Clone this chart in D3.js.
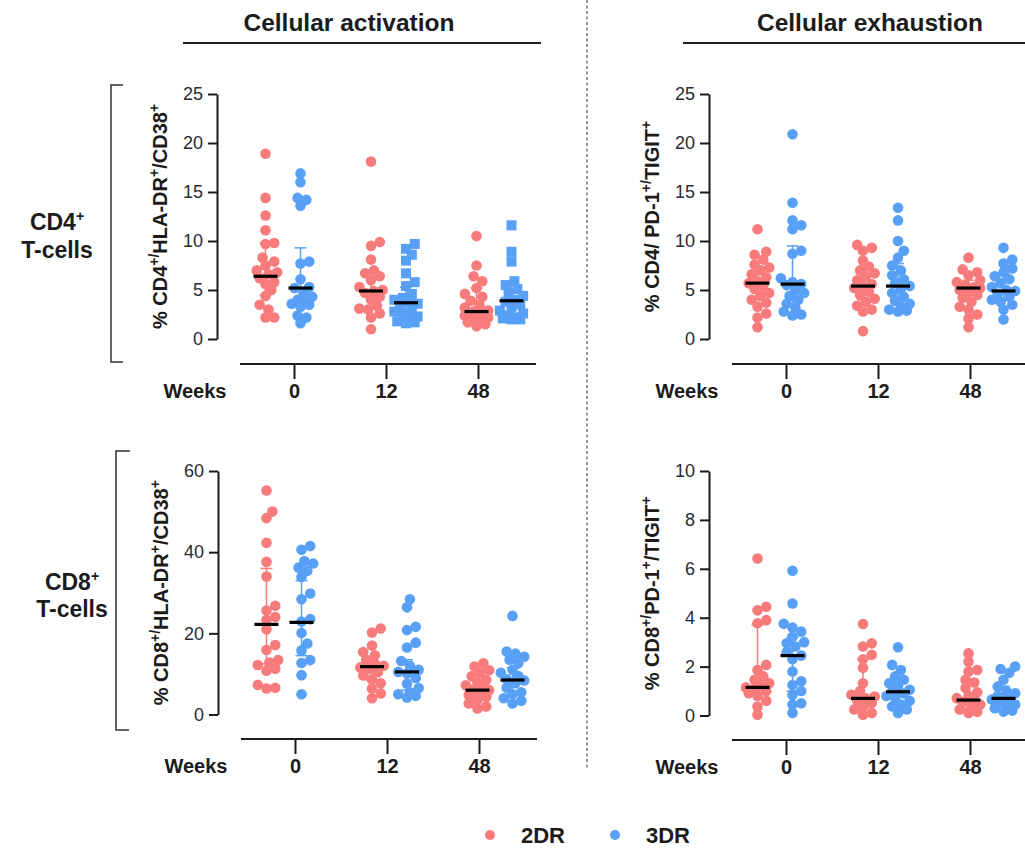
<!DOCTYPE html>
<html><head><meta charset="utf-8">
<script src="https://cdn.jsdelivr.net/npm/d3@7"></script>
<style>body{margin:0;background:#fff} svg{font-family:"Liberation Sans",Arial,sans-serif}</style>
</head><body><svg id="c" width="1025" height="850"></svg>
<script>
const weeks = ["0","12","48"];
const groups = ["2DR","3DR"];
const groupColors = ["#f87b7b","#57a0f6"];
const columnTitles = ["Cellular activation","Cellular exhaustion"];

// CD4 activation (% CD4+/HLA-DR+/CD38+), [week][values]
const cd4Act_2DR = [
  [18.9,14.4,12.6,11.1,9.8,9.7,8.3,7.9,7.5,7.0,6.8,6.6,6.2,5.8,5.6,5.0,4.4,3.5,3.0,2.2,2.2],
  [18.1,9.9,9.5,8.1,7.0,6.7,6.4,6.0,5.3,5.0,4.9,4.7,4.3,4.0,3.4,3.1,3.0,2.6,2.2,1.0],
  [10.5,7.5,6.4,5.9,5.2,4.6,4.3,3.9,3.5,3.2,2.9,2.8,2.6,2.4,2.2,2.0,1.9,1.7,1.5,1.3]];
const cd4Act_3DR = [
  [16.9,16.0,14.4,14.2,13.6,7.9,7.7,6.1,5.3,5.2,4.7,4.3,4.0,3.8,3.6,3.5,3.3,2.4,2.2,1.6],
  [9.7,9.2,8.6,8.0,6.7,5.8,5.4,4.6,4.2,4.0,3.8,3.6,3.3,3.0,2.8,2.6,2.3,2.0,1.8,1.7,1.6],
  [11.6,8.9,7.9,5.9,5.5,5.1,4.7,4.4,4.0,3.8,3.5,3.2,2.9,2.6,2.4,2.2,2.1,2.0,2.0]];
const cd4Act_median = [[6.4,5.2],[4.9,3.7],[2.8,3.9]];
const cd4Act_err = [[[4.5,9.8],[3.5,9.3]],[[3.3,6.3],[2.5,5.3]],[[1.8,5.2],[2.3,5.5]]];
const cd4Act_shape = [["circle","circle"],["circle","square"],["circle","square"]];

// CD4 exhaustion (% CD4/PD-1+/TIGIT+)
const cd4Exh_2DR = [
  [11.2,8.9,8.6,8.1,7.6,7.3,7.0,6.6,6.3,5.9,5.7,5.4,5.1,4.7,4.4,4.0,3.7,3.3,2.6,2.2,1.2],
  [9.6,9.3,9.0,8.0,7.4,7.0,6.7,6.4,6.0,5.6,5.4,5.2,4.8,4.5,4.1,3.8,3.4,3.0,2.8,0.8],
  [8.3,7.1,6.8,6.5,6.0,5.8,5.5,5.3,5.2,5.0,4.8,4.5,4.2,3.8,3.3,3.0,2.5,2.1,1.2]];
const cd4Exh_3DR = [
  [20.9,13.9,12.1,11.6,11.2,9.0,8.7,6.2,5.8,5.6,5.5,5.0,4.7,4.4,4.0,3.6,3.2,2.8,2.5,2.4],
  [13.4,12.1,10.0,9.0,8.3,7.5,7.0,6.5,6.1,5.7,5.4,5.1,4.7,4.3,3.9,3.6,3.3,3.0,2.9,2.8],
  [9.3,8.1,7.7,7.2,6.8,6.4,6.1,5.7,5.3,5.0,4.9,4.6,4.3,4.0,3.8,3.5,3.0,2.0]];
const cd4Exh_median = [[5.7,5.6],[5.4,5.4],[5.2,4.9]];
const cd4Exh_err = [[[4.3,7.4],[3.6,9.5]],[[4.0,7.0],[3.5,7.7]],[[4.0,6.0],[4.0,6.6]]];

// CD8 activation (% CD8+/HLA-DR+/CD38+)
const cd8Act_2DR = [
  [55.2,50.0,48.4,42.3,37.6,34.0,26.8,25.6,24.0,23.3,21.0,17.1,15.9,13.4,12.8,12.2,11.3,10.8,7.3,6.6,6.4],
  [21.2,20.2,17.0,15.4,14.6,13.5,12.5,12.0,11.6,11.2,10.4,9.6,8.6,7.7,6.4,5.2,4.0],
  [12.6,11.8,10.9,10.2,9.4,8.5,7.8,7.2,6.6,6.1,6.0,5.4,4.8,4.4,3.6,2.7,2.0,1.5]];
const cd8Act_3DR = [
  [41.5,40.6,37.8,37.2,36.2,35.4,33.9,29.8,28.4,23.5,22.9,20.1,17.5,15.8,13.4,12.7,9.7,5.0],
  [28.4,26.4,21.6,20.8,17.7,16.5,13.2,12.0,11.0,10.5,10.1,9.0,7.6,6.5,5.5,5.0,4.6,4.2],
  [24.3,15.5,15.0,14.2,13.5,12.6,11.0,10.3,9.5,8.7,8.4,7.7,6.6,5.5,5.0,4.0,3.4,2.7]];
const cd8Act_median = [[22.2,22.7],[11.8,10.5],[6.0,8.5]];
const cd8Act_err = [[[12.5,36.0],[14.5,33.0]],[[8.5,14.0],[6.0,13.5]],[[3.8,8.5],[5.0,11.5]]];

// CD8 exhaustion (% CD8+/PD-1+/TIGIT+)
const cd8Exh_2DR = [
  [6.42,4.45,4.3,3.9,3.77,2.07,1.86,1.6,1.46,1.32,1.2,1.15,1.1,1.0,0.91,0.8,0.6,0.37,0.03],
  [3.74,2.95,2.82,2.48,2.3,1.95,1.32,1.0,0.85,0.78,0.7,0.62,0.5,0.37,0.25,0.1,0.03],
  [2.54,2.2,1.86,1.8,1.46,1.35,1.12,0.95,0.8,0.71,0.63,0.55,0.45,0.37,0.25,0.15,0.1]];
const cd8Exh_3DR = [
  [5.92,4.58,3.75,3.6,3.43,3.22,3.0,2.95,2.82,2.6,2.45,2.3,1.8,1.4,1.25,1.0,0.84,0.5,0.45,0.1],
  [2.79,2.07,1.86,1.6,1.46,1.32,1.2,1.05,0.97,0.9,0.8,0.71,0.6,0.45,0.37,0.25,0.1],
  [2.0,1.9,1.75,1.46,1.18,1.0,0.91,0.8,0.7,0.65,0.57,0.45,0.35,0.3,0.2,0.16]];
const cd8Exh_median = [[1.15,2.45],[0.7,0.97],[0.63,0.7]];
const cd8Exh_err = [[[0.9,3.7],[1.0,3.2]],[[0.3,2.3],[0.5,1.4]],[[0.3,1.5],[0.4,1.2]]];

const ticksCD4 = [0,5,10,15,20,25];
const ticksCD8Act = [0,20,40,60];
const ticksCD8Exh = [0,2,4,6,8,10];

const labelCD4Act = [["% CD4",0],["+/",1],["HLA-DR",0],["+",1],["/CD38",0],["+",1]];
const labelCD4Exh = [["% CD4/ PD-1",0],["+/",1],["TIGIT",0],["+",1]];
const labelCD8Act = [["% CD8",0],["+/",1],["HLA-DR",0],["+",1],["/CD38",0],["+",1]];
const labelCD8Exh = [["% CD8",0],["+/",1],["PD-1",0],["+",1],["/TIGIT",0],["+",1]];

const svg = d3.select("#c");
const ink = "#1b1b1b";

function superText(sel, segs, size) {
  segs.forEach((s, i) => {
    const prevSup = i > 0 && segs[i-1][1];
    const t = sel.append("tspan").text(s[0]);
    if (s[1]) { t.attr("font-size", size*0.7).attr("dy", -size*0.42); }
    else if (prevSup) { t.attr("dy", size*0.42); }
  });
}

function swarm(vals, y, r, maxOff) {
  const pts = vals.map((v, i) => ({v, i, y: y(v)})).sort((a, b) => a.v - b.v);
  const placed = [];
  const step = r * 0.55;
  const cands = [0];
  for (let k = 1; k * step <= maxOff; k++) { cands.push(k*step, -k*step); }
  const minD = r * 1.55;
  pts.forEach(p => {
    let best = null, bestScore = -1;
    for (const off of cands) {
      let md = Infinity;
      for (const q of placed) { const d = Math.hypot(q.x - off, q.y - p.y); if (d < md) md = d; }
      if (md >= minD) { best = off; break; }
      if (md > bestScore) { bestScore = md; best = off; }
    }
    p.x = best; placed.push(p);
  });
  return pts;
}

const panels = [
  {ax:217, yTop:94, yZero:339, base:364, max:25, ticks:ticksCD4, data:[cd4Act_2DR,cd4Act_3DR], med:cd4Act_median, err:cd4Act_err, shape:cd4Act_shape, label:labelCD4Act},
  {ax:709, yTop:94, yZero:339, base:364, max:25, ticks:ticksCD4, data:[cd4Exh_2DR,cd4Exh_3DR], med:cd4Exh_median, err:cd4Exh_err, label:labelCD4Exh},
  {ax:218, yTop:471, yZero:714.5, base:739, max:60, ticks:ticksCD8Act, data:[cd8Act_2DR,cd8Act_3DR], med:cd8Act_median, err:cd8Act_err, label:labelCD8Act},
  {ax:709, yTop:471, yZero:715.5, base:740, max:10, ticks:ticksCD8Exh, data:[cd8Exh_2DR,cd8Exh_3DR], med:cd8Exh_median, err:cd8Exh_err, label:labelCD8Exh}
];

panels.forEach(P => {
  const g = svg.append("g");
  const y = d3.scaleLinear().domain([0, P.max]).range([P.yZero, P.yTop]);
  const xw = d3.scalePoint().domain(weeks).range([P.ax + 66, P.ax + 277]);
  const xg = d3.scalePoint().domain(groups).range([-17.5, 17.5]);
  const xt = d3.scalePoint().domain(weeks).range([P.ax + 77, P.ax + 261]);

  // y axis
  const ya = g.append("g").attr("transform", `translate(${P.ax},0)`)
    .call(d3.axisLeft(y).tickValues(P.ticks).tickSize(9).tickPadding(5).tickSizeOuter(0));
  ya.select(".domain").attr("stroke", ink).attr("stroke-width", 2);
  ya.selectAll(".tick line").attr("stroke", ink).attr("stroke-width", 2);
  ya.selectAll(".tick text").attr("font-size", 18).attr("fill", "#2a2a33")
    .attr("font-family", "Liberation Sans, Arial, sans-serif");

  // y label
  const lt = g.append("text")
    .attr("transform", `translate(${P.ax - 50},${(P.yTop + P.yZero)/2}) rotate(-90)`)
    .attr("text-anchor", "middle").attr("font-size", 20).attr("font-weight", "bold").attr("fill", ink);
  superText(lt, P.label, 20);

  // x axis (separate weeks axis)
  const xa = g.append("g").attr("transform", `translate(0,${P.base})`)
    .call(d3.axisBottom(xt).tickSize(15).tickPadding(5).tickSizeOuter(0));
  xa.select(".domain").attr("d", `M${P.ax + 23},0H${P.ax + 319}`).attr("stroke", ink).attr("stroke-width", 2);
  xa.selectAll(".tick line").attr("stroke", ink).attr("stroke-width", 2);
  xa.selectAll(".tick text").attr("font-size", 20).attr("font-weight", "bold").attr("fill", ink)
    .attr("font-family", "Liberation Sans, Arial, sans-serif");
  g.append("text").attr("x", P.ax - 22).attr("y", P.base + 34).attr("text-anchor", "middle")
    .attr("font-size", 20).attr("font-weight", "bold").attr("fill", ink).text("Weeks");

  weeks.forEach((w, wi) => {
    groups.forEach((gr, gi) => {
      const cx = xw(w) + xg(gr);
      const col = groupColors[gi];
      const shape = P.shape ? P.shape[wi][gi] : "circle";
      const pts = swarm(P.data[gi][wi], y, 5.3, 13);
      // error bar
      const [lo, hi] = P.err[wi][gi];
      g.append("line").attr("x1", cx).attr("x2", cx).attr("y1", y(lo)).attr("y2", y(hi))
        .attr("stroke", col).attr("stroke-width", 1.5);
      [lo, hi].forEach(v => g.append("line").attr("x1", cx - 6).attr("x2", cx + 6)
        .attr("y1", y(v)).attr("y2", y(v)).attr("stroke", col).attr("stroke-width", 1.5));
      if (shape === "square") {
        g.selectAll(null).data(pts).join("rect")
          .attr("x", d => cx + d.x - 5).attr("y", d => d.y - 5).attr("width", 10).attr("height", 10)
          .attr("fill", col);
      } else {
        g.selectAll(null).data(pts).join("circle")
          .attr("cx", d => cx + d.x).attr("cy", d => d.y).attr("r", 5.3).attr("fill", col);
      }
      const m = y(P.med[wi][gi]);
      g.append("line").attr("x1", cx - 12).attr("x2", cx + 12).attr("y1", m).attr("y2", m)
        .attr("stroke", "#000").attr("stroke-width", 3.2);
    });
  });
});

// Column titles and underlines
const titleCfg = [{cx:349, x1:183, x2:541}, {cx:870, x1:683, x2:1025}];
columnTitles.forEach((t, i) => {
  svg.append("text").attr("x", titleCfg[i].cx).attr("y", 31).attr("text-anchor", "middle")
    .attr("font-size", 24.5).attr("font-weight", "bold").attr("fill", ink).text(t);
  svg.append("line").attr("x1", titleCfg[i].x1).attr("x2", titleCfg[i].x2).attr("y1", 43).attr("y2", 43)
    .attr("stroke", ink).attr("stroke-width", 2);
});

// divider
svg.append("line").attr("x1", 587).attr("x2", 587).attr("y1", 0).attr("y2", 770)
  .attr("stroke", "#777").attr("stroke-width", 1.5).attr("stroke-dasharray", "3,2.5");

// row labels and brackets
const rowLabels = [{t:"CD4", x:57, y1:230, y2:258}, {t:"CD8", x:72, y1:590, y2:617}];
rowLabels.forEach(r => {
  const t = svg.append("text").attr("x", r.x).attr("y", r.y1).attr("text-anchor", "middle")
    .attr("font-size", 23).attr("font-weight", "bold").attr("fill", ink);
  t.append("tspan").text(r.t);
  t.append("tspan").text("+").attr("font-size", 14).attr("dy", -9);
  svg.append("text").attr("x", r.x).attr("y", r.y2).attr("text-anchor", "middle")
    .attr("font-size", 23).attr("font-weight", "bold").attr("fill", ink).text("T-cells");
});
svg.append("path").attr("d", "M123,85H111V362H123").attr("fill", "none").attr("stroke", "#333").attr("stroke-width", 1.5);
svg.append("path").attr("d", "M130,451H116V730H129").attr("fill", "none").attr("stroke", "#333").attr("stroke-width", 1.5);

// legend
const legX = [490, 615];
groups.forEach((gname, i) => {
  svg.append("circle").attr("cx", legX[i]).attr("cy", 835).attr("r", 5).attr("fill", groupColors[i]);
  svg.append("text").attr("x", legX[i] + 31).attr("y", 843).attr("font-size", 22).attr("font-weight", "bold")
    .attr("fill", ink).text(gname);
});
</script></body></html>
